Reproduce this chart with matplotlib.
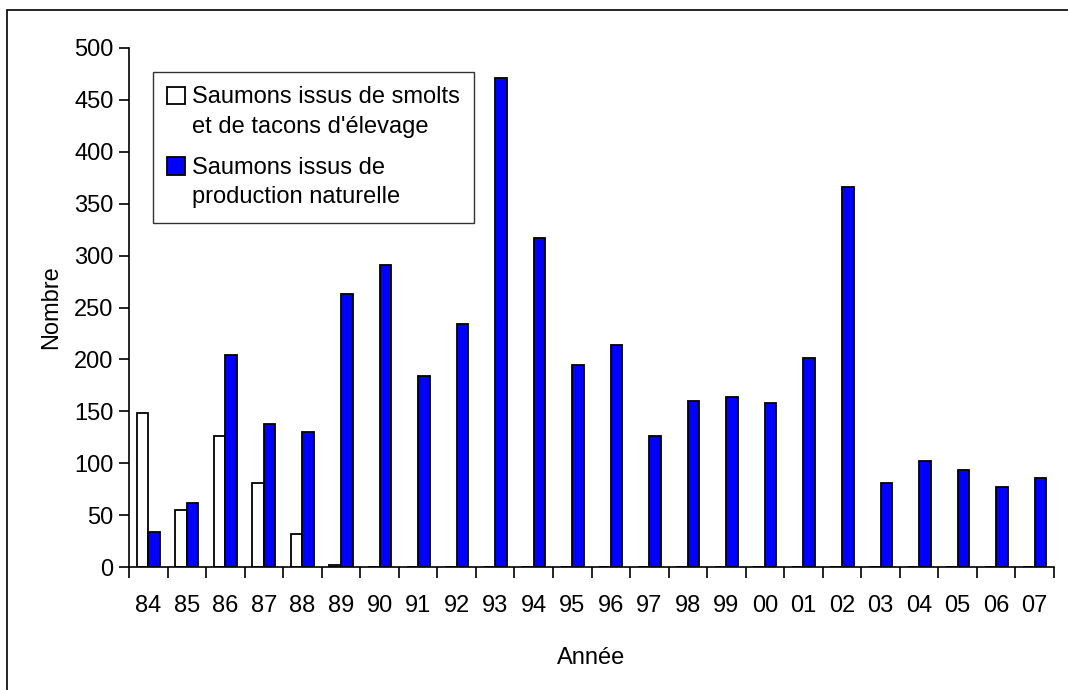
import matplotlib.pyplot as plt
import numpy as np
from matplotlib.patches import Rectangle

plt.rcParams['font.family'] = ['Liberation Sans', 'DejaVu Sans']

# years (two-digit labels)
annees = ['84', '85', '86', '87', '88', '89', '90', '91', '92', '93', '94', '95',
          '96', '97', '98', '99', '00', '01', '02', '03', '04', '05', '06', '07']

# salmon from hatchery smolts / parr
elevage = [148, 55, 126, 81, 32, 2, 0, 0, 0, 0, 0, 0,
           0, 0, 0, 0, 0, 0, 0, 0, 0, 0, 0, 0]

# salmon from natural production
naturelle = [34, 62, 204, 138, 130, 263, 291, 184, 234, 471, 317, 195,
             214, 126, 160, 164, 158, 201, 366, 81, 102, 93, 77, 86]

label_elevage = "Saumons issus de smolts\net de tacons d'élevage"
label_naturelle = "Saumons issus de\nproduction naturelle"

fs = 17
W, H = 1068, 690
fig = plt.figure(figsize=(W / 100, H / 100), dpi=100)
ax = fig.add_axes([129 / W, 1 - 567 / H, (1054 - 129) / W, (567 - 48) / H])

# outer frame (only left and top edges visible)
fig.patches.append(Rectangle((7 / W, -0.1), 1.2, 1 - 10 / H + 0.1,
                             transform=fig.transFigure, fill=False,
                             edgecolor='black', linewidth=1.2))

x = np.arange(len(annees))
bw = 0.3
ax.bar(x - bw / 2, elevage, bw, color='white', edgecolor='black',
       linewidth=1.3, label=label_elevage)
ax.bar(x + bw / 2, naturelle, bw, color='#0000FF', edgecolor='black',
       linewidth=1.3, label=label_naturelle)

ax.set_xlim(-0.5, len(annees) - 0.5)
ax.set_ylim(0, 500)
ax.set_yticks(np.arange(0, 501, 50))

# ticks between categories, labels at centers
ax.set_xticks(np.arange(-0.5, len(annees), 1))
ax.set_xticklabels([])
ax.set_xticks(x, minor=True)
ax.set_xticklabels(annees, minor=True)
ax.tick_params(axis='x', which='major', direction='out', length=8, width=1.2)
ax.tick_params(axis='x', which='minor', length=0, pad=20, labelsize=fs)
ax.tick_params(axis='y', direction='out', length=7, width=1.2, pad=4, labelsize=fs)

for s in ['top', 'right']:
    ax.spines[s].set_visible(False)
for s in ['left', 'bottom']:
    ax.spines[s].set_linewidth(1.2)

ax.set_ylabel('Nombre', fontsize=fs, labelpad=9)
ax.set_xlabel('Année', fontsize=fs, labelpad=22)

leg = ax.legend(loc='upper left', bbox_to_anchor=(153 / W, 1 - 72 / H),
                bbox_transform=fig.transFigure, fontsize=fs, frameon=True,
                fancybox=False, edgecolor='#333333', framealpha=1,
                handlelength=0.75, handleheight=0.75, handletextpad=0.3,
                labelspacing=0.8, borderpad=0.6, borderaxespad=0)
leg.get_frame().set_linewidth(1.0)
for t in leg.get_texts():
    t.set_linespacing(1.45)
# align the square markers with the first line of each label
for p in leg.legend_handles:
    p.set_y(p.get_y() + 12)

fig.savefig('out.png', dpi=100)
